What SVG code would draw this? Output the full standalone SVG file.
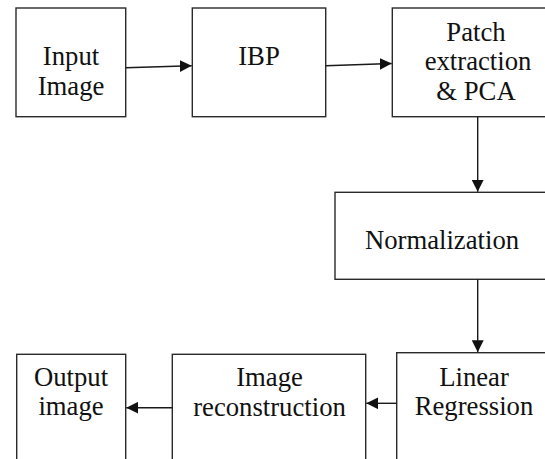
<svg xmlns="http://www.w3.org/2000/svg" width="545" height="459" viewBox="0 0 545 459">
<defs>
<style>
.box{fill:#fff;stroke:#2a2a2a;stroke-width:1.4}
.lbl{font-family:'Liberation Serif','Times New Roman',serif;font-size:26.7px;fill:#111;text-anchor:middle}
.con{fill:none;stroke:#1a1a1a;stroke-width:1.4}
</style>
<marker id="ah" viewBox="0 0 12 12" refX="12" refY="6" markerWidth="12" markerHeight="12" markerUnits="userSpaceOnUse" orient="auto">
<path d="M0,0 L12,6 L0,12 Z" fill="#111"/>
</marker>
</defs>
<rect width="545" height="459" fill="#fff"/>
<g id="input">
<rect class="box" x="16" y="8" width="109.7" height="108.7"/>
<text class="lbl" x="71" y="65.3">Input</text>
<text class="lbl" x="71" y="94.5">Image</text>
</g>
<g id="ibp">
<rect class="box" x="192.3" y="8" width="133.4" height="108.7"/>
<text class="lbl" x="259" y="65">IBP</text>
</g>
<g id="patch">
<rect class="box" x="392.3" y="8" width="175" height="108.7"/>
<text class="lbl" x="476" y="40.7">Patch</text>
<text class="lbl" x="478" y="70.2">extraction</text>
<text class="lbl" x="476" y="99.8">&amp; PCA</text>
</g>
<g id="normalization">
<rect class="box" x="335" y="192.3" width="230" height="87"/>
<text class="lbl" x="442" y="249.3">Normalization</text>
</g>
<g id="linear">
<rect class="box" x="396.7" y="352.7" width="170" height="120"/>
<text class="lbl" x="474" y="386">Linear</text>
<text class="lbl" x="474" y="415.3">Regression</text>
</g>
<g id="reconstruction">
<rect class="box" x="172.3" y="354.3" width="193.4" height="120"/>
<text class="lbl" x="269.5" y="385.7">Image</text>
<text class="lbl" x="269.5" y="415.5">reconstruction</text>
</g>
<g id="output">
<rect class="box" x="16.7" y="354.3" width="109" height="120"/>
<text class="lbl" x="71" y="385.7">Output</text>
<text class="lbl" x="71" y="415">image</text>
</g>
<g id="connectors">
<line class="con" x1="125.7" y1="67.7" x2="191.7" y2="65.7" marker-end="url(#ah)"/>
<line class="con" x1="325.7" y1="65.7" x2="391.7" y2="63.5" marker-end="url(#ah)"/>
<line class="con" x1="477.7" y1="116.7" x2="477.7" y2="191.8" marker-end="url(#ah)"/>
<line class="con" x1="477.7" y1="279.3" x2="477.7" y2="352.2" marker-end="url(#ah)"/>
<line class="con" x1="396.7" y1="403.3" x2="366.3" y2="403.3" marker-end="url(#ah)"/>
<line class="con" x1="172.3" y1="407.7" x2="126.3" y2="407.7" marker-end="url(#ah)"/>
</g>
</svg>
